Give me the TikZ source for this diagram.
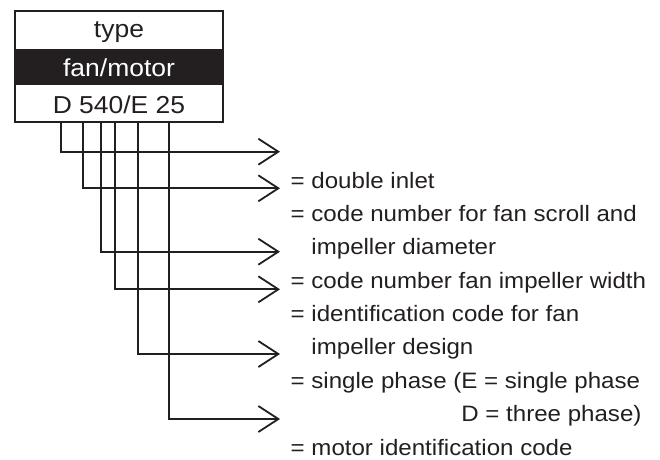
\documentclass[tikz,border=0pt]{standalone}
\usepackage{fontspec}
\setmainfont{Liberation Sans}[FakeStretch=1.08]
\usetikzlibrary{arrows.meta}
\definecolor{ink}{RGB}{35,31,32}
\begin{document}
\begin{tikzpicture}[x=1pt,y=-1pt,
  frame/.style={draw=ink, line width=2pt, minimum width=208pt, minimum height=111pt, inner sep=0pt, outer sep=0pt, anchor=north west},
  band/.style={fill=ink, minimum width=208pt, minimum height=36pt, inner sep=0pt, outer sep=0pt, anchor=north west},
  boxtext/.style={anchor=base, inner sep=0pt, text=ink, font=\fontsize{24.5}{28}\selectfont},
  desc/.style={anchor=base west, inner sep=0pt, text=ink, font=\fontsize{22.3}{26}\selectfont},
  conn/.style={draw=ink, line width=1.8pt, -{Straight Barb[length=20pt,width=26pt,line width=1.8pt]}},
]
\useasboundingbox (0,0) rectangle (660,459);
\node[band] (bandrow) at (15,49) {};
\node[frame] (box) at (15,11) {};
\node[boxtext] (ttype) at (119,37) {type};
\node[boxtext, text=white] (tfan) at (119,76) {fan/motor};
\node[boxtext] (tcode) at (119,113) {D 540/E 25};
% start points on the box bottom
\coordinate (s1) at (61,122);
\coordinate (s2) at (83.3,122);
\coordinate (s3) at (101.3,122);
\coordinate (s4) at (115,122);
\coordinate (s5) at (137.7,122);
\coordinate (s6) at (169.3,122);
% arrow tips
\coordinate (e1) at (280,151.7);
\coordinate (e2) at (280,188.3);
\coordinate (e3) at (280,251.7);
\coordinate (e4) at (280,289.3);
\coordinate (e5) at (280,354);
\coordinate (e6) at (280,419);
\draw[conn] (s1) |- (e1);
\draw[conn] (s2) |- (e2);
\draw[conn] (s3) |- (e3);
\draw[conn] (s4) |- (e4);
\draw[conn] (s5) |- (e5);
\draw[conn] (s6) |- (e6);
% descriptions
\node[desc] (d1) at (290.5,188) {= double inlet};
\node[desc] (d2) at (290.5,221.3) {= code number for fan scroll and};
\node[desc] (d3) at (290.5,254.7) {\phantom{= }impeller diameter};
\node[desc] (d4) at (290.5,288.1) {= code number fan impeller width};
\node[desc] (d5) at (290.5,321.5) {= identification code for fan};
\node[desc] (d6) at (290.5,354.9) {\phantom{= }impeller design};
\node[desc] (d7) at (290.5,388.3) {= single phase (E = single phase};
\node[desc] (d8) at (290.5,421.7) {\phantom{= single phase (}D = three phase)};
\node[desc] (d9) at (290.5,455.1) {= motor identification code};
\end{tikzpicture}
\end{document}
